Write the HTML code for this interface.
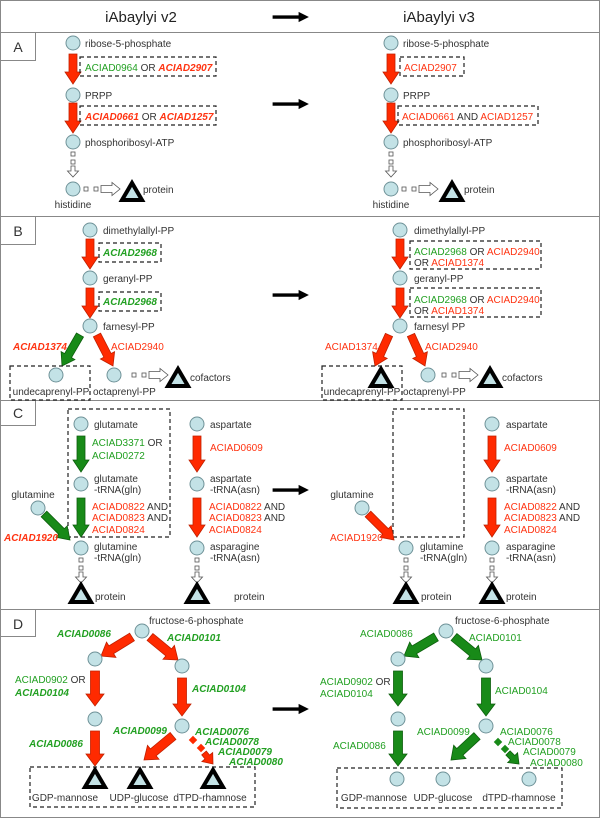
<!DOCTYPE html>
<html><head><meta charset="utf-8"><style>
html,body{margin:0;padding:0;background:#fff}
svg{display:block}
text{font-family:"Liberation Sans",Arial,sans-serif;font-size:10px;fill:#333}
.g{fill:#22a022}.r{fill:#ff3311}.bi{font-weight:bold;font-style:italic}
.h{font-size:15px;fill:#222}
</style></head><body>
<svg id="s" width="600" height="818" viewBox="0 0 600 818" xmlns="http://www.w3.org/2000/svg">
<rect x="0.5" y="0.5" width="599" height="817" fill="#fff" stroke="#888"/>
<g stroke="#888" stroke-width="1">
<line x1="0" y1="32.5" x2="600" y2="32.5"/><line x1="0" y1="216.5" x2="600" y2="216.5"/>
<line x1="0" y1="400.5" x2="600" y2="400.5"/><line x1="0" y1="609.5" x2="600" y2="609.5"/>
<rect x="0.5" y="32.5" width="35" height="28" fill="#fff"/><rect x="0.5" y="216.5" width="35" height="28" fill="#fff"/>
<rect x="0.5" y="400.5" width="35" height="25" fill="#fff"/><rect x="0.5" y="609.5" width="35" height="27" fill="#fff"/>
</g>
<text x="18" y="52" text-anchor="middle" style="font-size:14px">A</text>
<text x="18" y="236" text-anchor="middle" style="font-size:14px">B</text>
<text x="18" y="418" text-anchor="middle" style="font-size:14px">C</text>
<text x="18" y="629" text-anchor="middle" style="font-size:14px">D</text>
<text class="h" x="141" y="22" text-anchor="middle">iAbaylyi v2</text>
<text class="h" x="439" y="22" text-anchor="middle">iAbaylyi v3</text>
<g id="shapes"></g>

<!-- A -->
<text x="85" y="47">ribose-5-phosphate</text><text x="403" y="47">ribose-5-phosphate</text>
<text x="85" y="71"><tspan class="g">ACIAD0964</tspan> OR <tspan class="r bi">ACIAD2907</tspan></text>
<text x="404" y="71" class="r">ACIAD2907</text>
<text x="85" y="99">PRPP</text><text x="403" y="99">PRPP</text>
<text x="85" y="120"><tspan class="r bi">ACIAD0661</tspan> OR <tspan class="r bi">ACIAD1257</tspan></text>
<text x="402" y="120"><tspan class="r">ACIAD0661</tspan> AND <tspan class="r">ACIAD1257</tspan></text>
<text x="85" y="146">phosphoribosyl-ATP</text><text x="403" y="146">phosphoribosyl-ATP</text>
<text x="143" y="193">protein</text><text x="464" y="193">protein</text>
<text x="73" y="208" text-anchor="middle">histidine</text><text x="391" y="208" text-anchor="middle">histidine</text>

<!-- B -->
<text x="103" y="234">dimethylallyl-PP</text><text x="414" y="234">dimethylallyl-PP</text>
<text x="103" y="256" class="g bi">ACIAD2968</text>
<text x="414" y="255"><tspan class="g">ACIAD2968</tspan> OR <tspan class="r">ACIAD2940</tspan></text>
<text x="414" y="266">OR <tspan class="r">ACIAD1374</tspan></text>
<text x="103" y="282">geranyl-PP</text><text x="414" y="282">geranyl-PP</text>
<text x="103" y="305" class="g bi">ACIAD2968</text>
<text x="414" y="303"><tspan class="g">ACIAD2968</tspan> OR <tspan class="r">ACIAD2940</tspan></text>
<text x="414" y="314">OR <tspan class="r">ACIAD1374</tspan></text>
<text x="103" y="330">farnesyl-PP</text><text x="414" y="330">farnesyl PP</text>
<text x="13" y="350" class="r bi">ACIAD1374</text><text x="111" y="350" class="r">ACIAD2940</text>
<text x="325" y="350" class="r">ACIAD1374</text><text x="425" y="350" class="r">ACIAD2940</text>
<text x="51" y="395" text-anchor="middle">undecaprenyl-PP</text><text x="93" y="395">octaprenyl-PP</text>
<text x="190" y="381">cofactors</text>
<text x="362" y="395" text-anchor="middle">undecaprenyl-PP</text><text x="403" y="395">octaprenyl-PP</text>
<text x="502" y="381">cofactors</text>

<!-- C -->
<text x="94" y="428">glutamate</text>
<text x="92" y="446"><tspan class="g">ACIAD3371</tspan> OR</text>
<text x="92" y="459" class="g">ACIAD0272</text>
<text x="94" y="482">glutamate</text><text x="94" y="493">-tRNA(gln)</text>
<text x="92" y="510"><tspan class="r">ACIAD0822</tspan> AND</text>
<text x="92" y="521"><tspan class="r">ACIAD0823</tspan> AND</text>
<text x="92" y="533" class="r">ACIAD0824</text>
<text x="94" y="550">glutamine</text><text x="94" y="561">-tRNA(gln)</text>
<text x="33" y="498" text-anchor="middle">glutamine</text>
<text x="4" y="541" class="r bi">ACIAD1920</text>
<text x="95" y="600">protein</text>

<text x="210" y="428">aspartate</text>
<text x="210" y="451" class="r">ACIAD0609</text>
<text x="210" y="482">aspartate</text><text x="210" y="493">-tRNA(asn)</text>
<text x="209" y="510"><tspan class="r">ACIAD0822</tspan> AND</text>
<text x="209" y="521"><tspan class="r">ACIAD0823</tspan> AND</text>
<text x="209" y="533" class="r">ACIAD0824</text>
<text x="210" y="550">asparagine</text><text x="210" y="561">-tRNA(asn)</text>
<text x="234" y="600">protein</text>

<text x="352" y="498" text-anchor="middle">glutamine</text>
<text x="330" y="541" class="r">ACIAD1920</text>
<text x="420" y="550">glutamine</text><text x="420" y="561">-tRNA(gln)</text>
<text x="421" y="600">protein</text>
<text x="506" y="428">aspartate</text>
<text x="504" y="451" class="r">ACIAD0609</text>
<text x="506" y="482">aspartate</text><text x="506" y="493">-tRNA(asn)</text>
<text x="504" y="510"><tspan class="r">ACIAD0822</tspan> AND</text>
<text x="504" y="521"><tspan class="r">ACIAD0823</tspan> AND</text>
<text x="504" y="533" class="r">ACIAD0824</text>
<text x="506" y="550">asparagine</text><text x="506" y="561">-tRNA(asn)</text>
<text x="506" y="600">protein</text>

<!-- D -->
<text x="149" y="624">fructose-6-phosphate</text>
<text x="57" y="637" class="g bi">ACIAD0086</text>
<text x="167" y="641" class="g bi">ACIAD0101</text>
<text x="15" y="683"><tspan class="g">ACIAD0902</tspan> OR</text>
<text x="15" y="696" class="g bi">ACIAD0104</text>
<text x="192" y="692" class="g bi">ACIAD0104</text>
<text x="29" y="747" class="g bi">ACIAD0086</text>
<text x="113" y="734" class="g bi">ACIAD0099</text>
<text x="195" y="735" class="g bi">ACIAD0076</text>
<text x="205" y="745" class="g bi">ACIAD0078</text>
<text x="218" y="755" class="g bi">ACIAD0079</text>
<text x="229" y="765" class="g bi">ACIAD0080</text>
<text x="65" y="801" text-anchor="middle">GDP-mannose</text>
<text x="139" y="801" text-anchor="middle">UDP-glucose</text>
<text x="210" y="801" text-anchor="middle">dTPD-rhamnose</text>

<text x="455" y="624">fructose-6-phosphate</text>
<text x="360" y="637" class="g">ACIAD0086</text>
<text x="469" y="641" class="g">ACIAD0101</text>
<text x="320" y="685"><tspan class="g">ACIAD0902</tspan> OR</text>
<text x="320" y="697" class="g">ACIAD0104</text>
<text x="495" y="694" class="g">ACIAD0104</text>
<text x="333" y="749" class="g">ACIAD0086</text>
<text x="417" y="735" class="g">ACIAD0099</text>
<text x="500" y="735" class="g">ACIAD0076</text>
<text x="508" y="745" class="g">ACIAD0078</text>
<text x="523" y="755" class="g">ACIAD0079</text>
<text x="530" y="766" class="g">ACIAD0080</text>
<text x="374" y="801" text-anchor="middle">GDP-mannose</text>
<text x="443" y="801" text-anchor="middle">UDP-glucose</text>
<text x="519" y="801" text-anchor="middle">dTPD-rhamnose</text>
</svg>
<script>
var out=[];
var RED="#ff2a00",RS="#c02000",GR="#188a18",GS="#0d5e0d";
function C(x,y){out.push('<circle cx="'+x+'" cy="'+y+'" r="7" fill="#c3e2e6" stroke="#6f9298" stroke-width="1"/>');}
function A(x1,y1,x2,y2,f,s,sw,hw,hl){sw=sw||8;hw=hw||16;hl=hl||12;
 var dx=x2-x1,dy=y2-y1,L=Math.sqrt(dx*dx+dy*dy),ux=dx/L,uy=dy/L,px=-uy,py=ux;
 var bx=x2-ux*hl,by=y2-uy*hl;
 var p=[[x1+px*sw/2,y1+py*sw/2],[bx+px*sw/2,by+py*sw/2],[bx+px*hw/2,by+py*hw/2],[x2,y2],[bx-px*hw/2,by-py*hw/2],[bx-px*sw/2,by-py*sw/2],[x1-px*sw/2,y1-py*sw/2]];
 out.push('<polygon points="'+p.map(function(q){return q[0].toFixed(1)+','+q[1].toFixed(1)}).join(' ')+'" fill="'+f+'" stroke="'+s+'" stroke-width="0.8"/>');}
function R(x1,y1,x2,y2){out.push('<rect x="'+x1+'" y="'+y1+'" width="'+(x2-x1)+'" height="'+(y2-y1)+'" fill="none" stroke="#222" stroke-width="1.2" stroke-dasharray="4,3"/>');}
function sq(x,y){out.push('<rect x="'+(x-2)+'" y="'+(y-2)+'" width="4" height="4" fill="#fff" stroke="#555" stroke-width="0.8"/>');}
function V(x,y){sq(x,y+2);sq(x,y+10);A(x,y+14,x,y+25,"#fff","#555",4,11,6);}
function H(x,y){sq(x+2,y);sq(x+12,y);A(x+17,y,x+36,y,"#fff","#555",7,13,8);}
function T(x,y){out.push('<polygon points="'+(x-10)+','+(y+8)+' '+(x+10)+','+(y+8)+' '+x+','+(y-9)+'" fill="#c3e2e6" stroke="#000" stroke-width="4" stroke-linejoin="miter"/>');}
function BA(x1,y1,x2,y2){A(x1,y1,x2,y2,"#000","#000",2.5,9,9);}
BA(273,17,308,17);BA(273,104,308,104);BA(273,295,308,295);BA(273,490,308,490);BA(273,709,308,709);
[73,391].forEach(function(x){C(x,43);A(x,54,x,84,RED,RS);C(x,95);A(x,103,x,133,RED,RS);C(x,142);V(x,152);C(x,189);H(x+11,189);});
T(132,192);T(452,192);
R(80,57,216,76);R(400,57,464,76);R(80,106,216,125);R(398,106,538,125);
[90,400].forEach(function(x){C(x,230);A(x,239,x,269,RED,RS);C(x,278);A(x,288,x,318,RED,RS);C(x,326);});
R(99,243,161,262);R(99,292,161,311);R(410,241,541,269);R(410,288,541,317);
A(80,335,62,366,GR,GS);A(97,335,113,366,RED,RS);
C(56,375);C(114,375);H(132,375);T(178,378);R(10,366,90,400);
A(389,335,375,366,RED,RS);A(411,335,425,366,RED,RS);
T(381,378);R(322,366,402,400);C(428,375);H(442,375);T(490,378);
R(68,409,170,537);
C(81,424);A(81,436,81,472,GR,GS);C(81,484);A(81,498,81,537,GR,GS);C(81,548);V(81,558);T(81,594);
C(38,508);A(44,514,70,540,GR,GS);
[197,492].forEach(function(x){C(x,424);A(x,436,x,472,RED,RS);C(x,484);A(x,498,x,537,RED,RS);C(x,548);V(x,558);T(x,594);});
R(393,409,464,537);C(362,508);A(368,514,394,540,RED,RS);
C(406,548);V(406,558);T(406,594);
function D(fx,lx,rx,f,s,ix){C(fx,631);A(fx-10,637,lx+6,656,f,s,9,18,12);A(fx+8,637,rx-4,660,f,s,9,18,12);
 C(lx,659);C(rx,666);A(lx,671,lx,706,f,s,9,18,12);A(rx,678,rx,716,f,s,9,18,12);
 C(lx,719);C(rx,726);A(lx,731,lx,766,f,s,9,18,12);A(rx-9,736,ix,760,f,s,9,18,12);}
D(142,95,182,RED,RS,144);
out.push('<rect x="190" y="737" width="6" height="6" fill="'+RED+'" transform="rotate(45 193 740)"/>');
out.push('<rect x="198" y="745" width="6" height="6" fill="'+RED+'" transform="rotate(45 201 748)"/>');
A(204,753,213,764,RED,RS,6,14,9);
T(95,779);T(140,779);T(213,779);R(30,767,255,807);
D(446,398,486,GR,GS,451);
out.push('<rect x="495" y="739" width="6" height="6" fill="'+GR+'" transform="rotate(45 498 742)"/>');
out.push('<rect x="502" y="746" width="6" height="6" fill="'+GR+'" transform="rotate(45 505 749)"/>');
A(508,753,519,764,GR,GS,6,14,9);
C(397,779);C(443,779);C(529,779);R(337,768,562,808);
document.getElementById('shapes').innerHTML=out.join('');
</script>
</body></html>
